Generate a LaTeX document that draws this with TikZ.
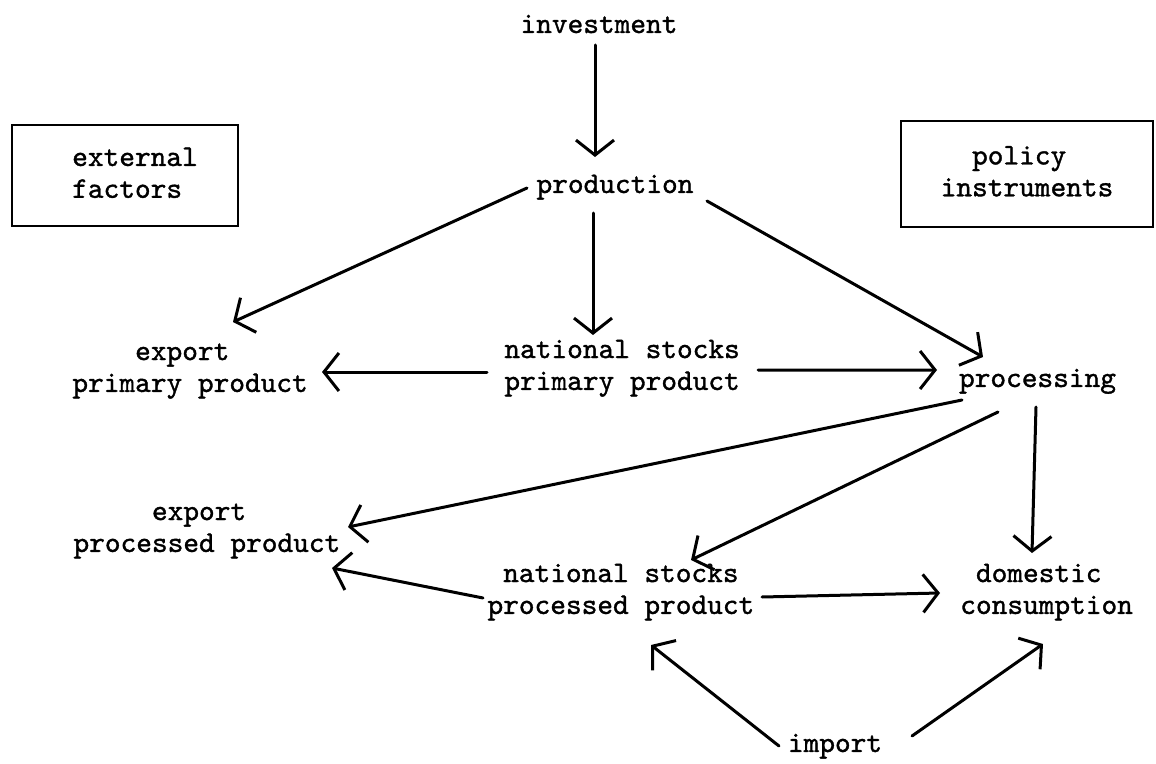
\documentclass[tikz,border=0pt]{standalone}
\usepackage{fontspec}
\newfontfamily\twfont{lmmono10-regular.otf}[FakeBold=1.2]
\usetikzlibrary{arrows.meta}
\begin{document}
\begin{tikzpicture}[x=1bp,y=-1bp,
  every node/.style={font=\twfont\fontsize{30}{32}\selectfont, inner sep=0pt, outer sep=0pt, anchor=center},
  txt/.style={align=left},
  frame/.style={draw, line width=2.7bp, align=left},
  conn/.style={line width=3bp, -{Straight Barb[length=15bp,width=38bp]}, line cap=round, line join=round}
]
\useasboundingbox (0,0) rectangle (1156,764);

% boxes
\node[frame, minimum width=226bp, minimum height=101bp] (ext) at (125,175.5)
  {\hspace*{20bp}\strut external\\\hspace*{20bp}\strut factors};
\node[frame, minimum width=252bp, minimum height=106bp] (pol) at (1027,174)
  {\strut\hspace*{1.05em}policy\\\strut instruments};

% single-line nodes
\node (inv)  at (599,26.6)    {\strut investment};
\node (prod) at (615,186.6)   {\strut production};
\node (proc) at (1037.5,380.6){\strut processing};
\node (imp)  at (835,745.6)   {\strut import};

% two-line nodes
\node[txt] (expP) at (190.1,369.6) {\strut\hspace*{2.1em}export\\\strut primary product};
\node[txt] (nspP) at (622.1,367.6) {\strut national stocks\\\strut primary product};
\node[txt] (expQ) at (206.9,529.6) {\strut\hspace*{2.625em}export\\\strut processed product};
\node[txt] (nsQ)  at (620.9,591.6) {\strut\hspace*{0.525em}national stocks\\\strut processed product};
\node[txt] (dom)  at (1046.6,591.6){\strut\hspace*{0.525em}domestic\\\strut consumption};

% connectors
\draw[conn] ([shift={(-4,18.4)}]inv.center) -- ([shift={(-20,-29.6)}]prod.center);
\draw[conn] ([shift={(-88,1.4)}]prod.center) -- ([shift={(42.9,-47.6)}]expP.center);
\draw[conn] ([shift={(-22,26.4)}]prod.center) -- ([shift={(-29.1,-32.6)}]nspP.center);
\draw[conn] ([shift={(92,14.4)}]prod.center) -- ([shift={(-54.5,-23.6)}]proc.center);
\draw[conn] ([shift={(-135.1,4.4)}]nspP.center) -- ([shift={(131.9,2.4)}]expP.center);
\draw[conn] ([shift={(135.9,2.4)}]nspP.center) -- ([shift={(-100.5,-10.6)}]proc.center);
\draw[conn] ([shift={(-75.5,19.4)}]proc.center) -- ([shift={(141.1,-2.6)}]expQ.center);
\draw[conn] ([shift={(-39.5,31.4)}]proc.center) -- ([shift={(70.1,-31.6)}]nsQ.center);
\draw[conn] ([shift={(-1.5,26.4)}]proc.center) -- ([shift={(-14.6,-38.6)}]dom.center);
\draw[conn] ([shift={(-137.9,6.4)}]nsQ.center) -- ([shift={(125.1,38.4)}]expQ.center);
\draw[conn] ([shift={(141.1,5.4)}]nsQ.center) -- ([shift={(-106.6,1.4)}]dom.center);
\draw[conn] ([shift={(-56,0.4)}]imp.center) -- ([shift={(30.1,53.4)}]nsQ.center);
\draw[conn] ([shift={(77,-9.6)}]imp.center) -- ([shift={(-3.6,52.4)}]dom.center);
\end{tikzpicture}
\end{document}
